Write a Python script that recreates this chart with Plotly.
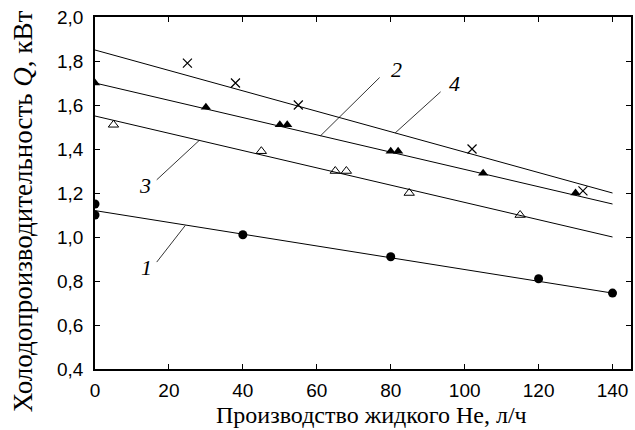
import plotly.graph_objects as go

# ---- data ----
x1 = [0, 0, 40, 80, 120, 140]
y1 = [1.15, 1.10, 1.01, 0.91, 0.81, 0.745]
x2 = [0, 30, 50, 52, 80, 82, 105, 130]
y2 = [1.70, 1.59, 1.51, 1.51, 1.39, 1.39, 1.29, 1.20]
x3 = [5, 45, 65, 68, 85, 115]
y3 = [1.51, 1.39, 1.30, 1.30, 1.20, 1.10]
x4 = [25, 38, 55, 102, 132]
y4 = [1.79, 1.70, 1.60, 1.40, 1.21]

fit_x = [0, 140]
fit1 = [1.12, 0.745]
fit2 = [1.70, 1.15]
fit3 = [1.55, 1.00]
fit4 = [1.85, 1.20]

curve_labels = ["1", "2", "3", "4"]
label_x = [14.0, 81.5, 13.4, 97.3]
label_y = [0.86, 1.76, 1.236, 1.70]
leader_x0 = [24.4, 61.0, 28.2, 81.2]
leader_y0 = [1.052, 1.46, 1.439, 1.473]
leader_x1 = [16.7, 77.0, 16.7, 93.5]
leader_y1 = [0.886, 1.725, 1.26, 1.66]

x_ticks = [0, 20, 40, 60, 80, 100, 120, 140]
y_ticks = [0.4, 0.6, 0.8, 1.0, 1.2, 1.4, 1.6, 1.8, 2.0]

x_title = "Производство жидкого Не, л/ч"
y_title = "Холодопроизводительность <i>Q</i>, кВт"

fig = go.Figure()

# fitted lines
for fy in (fit1, fit2, fit3, fit4):
    fig.add_trace(go.Scatter(x=fit_x, y=fy, mode="lines",
                             line=dict(color="black", width=1), showlegend=False,
                             hoverinfo="skip"))

# leader lines
for a, b, c, d in zip(leader_x0, leader_y0, leader_x1, leader_y1):
    fig.add_trace(go.Scatter(x=[a, c], y=[b, d], mode="lines",
                             line=dict(color="black", width=0.8), showlegend=False,
                             hoverinfo="skip"))

# markers
fig.add_trace(go.Scatter(x=x1, y=y1, mode="markers", showlegend=False,
                         marker=dict(symbol="circle", size=9, color="black")))
fig.add_trace(go.Scatter(x=x2, y=y2, mode="markers", showlegend=False,
                         marker=dict(symbol="triangle-up", size=9, color="black")))
fig.add_trace(go.Scatter(x=x3, y=y3, mode="markers", showlegend=False,
                         marker=dict(symbol="triangle-up-open", size=9, color="black",
                                     line=dict(width=1, color="black"))))
fig.add_trace(go.Scatter(x=x4, y=y4, mode="markers", showlegend=False,
                         marker=dict(symbol="x-thin-open", size=9, color="black",
                                     line=dict(width=1.2, color="black"))))

# curve number labels
for t, lx, ly in zip(curve_labels, label_x, label_y):
    fig.add_annotation(x=lx, y=ly, text="<i>" + t + "</i>", showarrow=False,
                       font=dict(family="Liberation Serif", size=22, color="black"))

# axis titles (as annotations so they can sit where the reference puts them)
fig.add_annotation(x=0.515, y=-0.131, xref="paper", yref="paper",
                   text=x_title, showarrow=False, xanchor="center", yanchor="middle",
                   font=dict(family="Liberation Serif", size=24, color="black"))
fig.add_annotation(x=-0.134, y=0.449, xref="paper", yref="paper",
                   text=y_title, showarrow=False, textangle=-90,
                   xanchor="center", yanchor="middle",
                   font=dict(family="Liberation Serif", size=27, color="black"))

fig.update_layout(
    width=635, height=430,
    margin=dict(l=95, r=2, t=17, b=61),
    paper_bgcolor="white", plot_bgcolor="white",
    separators=", ",
    font=dict(family="Liberation Sans", size=19, color="black"),
)
fig.update_xaxes(
    range=[0, 145], tickvals=x_ticks, ticks="inside", ticklen=5, tickwidth=1,
    tickcolor="black", showline=True, linecolor="black", linewidth=1.5,
    mirror="ticks", showgrid=False, zeroline=False, ticklabelstandoff=3,
)
fig.update_yaxes(
    range=[0.4, 2.0], tickvals=y_ticks, tickformat=".1f", ticks="inside",
    ticklen=5, tickwidth=1, tickcolor="black", showline=True, linecolor="black",
    linewidth=1.5, mirror="ticks", showgrid=False, zeroline=False,
    ticklabelstandoff=6,
)

fig.write_html("out.html", config={"displayModeBar": False},
               post_script="document.body.style.margin='0';")
